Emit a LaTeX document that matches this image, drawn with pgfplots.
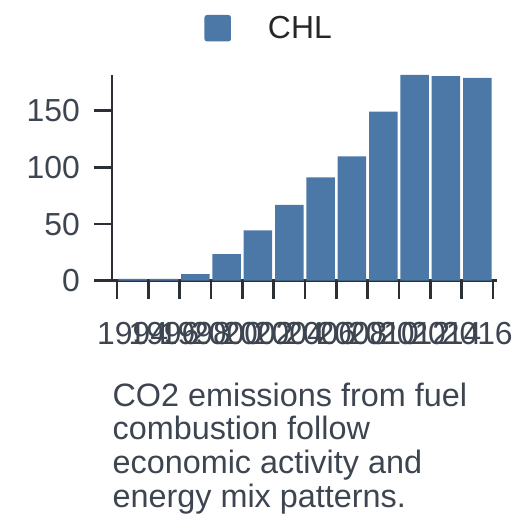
\documentclass[border=0pt]{standalone}
\usepackage{pgfplots}
\pgfplotsset{compat=1.18}
\usepackage{fontspec}
\setmainfont{Liberation Sans}
\definecolor{barblue}{HTML}{4C78A8}
\definecolor{axcol}{HTML}{2B2F36}
\definecolor{txtcol}{HTML}{3D4551}
\definecolor{legcol}{HTML}{262626}
\begin{document}
\begin{tikzpicture}
\path (0,0) rectangle (528bp,528bp);
\begin{axis}[
  at={(112bp,247.3bp)}, anchor=south west,
  scale only axis, width=385bp, height=205.7bp,
  xmin=-0.66, xmax=11.63, ymin=0, ymax=181.5,
  axis x line*=bottom, axis y line*=left,
  axis line style={axcol, line width=2.7bp, -},
  tick align=outside,
  every tick/.style={axcol, line width=2.7bp},
  major tick length=18bp,
  xtick={-0.5,0.5,1.5,2.5,3.5,4.5,5.5,6.5,7.5,8.5,9.5,10.5,11.5},
  xticklabels={},
  extra x ticks={0,1,2,3,4,5,6,7,8,9,10,11},
  extra x tick labels={1994,1996,1998,2000,2002,2004,2006,2008,2010,2012,2014,2016},
  extra x tick style={major tick length=0pt},
  ytick={0,50,100,150},
  /pgf/number format/assume math mode=true,
  ticklabel style={font=\fontsize{32}{38}\selectfont, text=txtcol, inner sep=0pt},
  yticklabel style={anchor=east, xshift=-14bp},
  xticklabel style={anchor=north, yshift=-41.3bp},
  legend style={at={(0.2397,1.2275)}, anchor=west, draw=none, fill=none,
    inner sep=0pt, font=\fontsize{32}{38}\selectfont, text=legcol,
    nodes={inner sep=0pt},
    /tikz/every odd column/.append style={column sep=37bp}},
]
\addplot[ybar, fill=barblue, draw=none, bar width=0.91,
  legend image code/.code={\fill[barblue, rounded corners=2.5bp] (0bp,-13.25bp) rectangle (26.5bp,13.25bp);}]
  coordinates {(0,1.5) (1,1.5) (2,5.9) (3,23.5) (4,44.4) (5,66.8) (6,91.2) (7,109.8) (8,149.1) (9,181.5) (10,180.6) (11,178.9)};
\addlegendentry{CHL}
\end{axis}
\node[anchor=north west, inner sep=0pt, font=\fontsize{32.5}{33.8}\selectfont, text=txtcol, align=left] at (112.4bp,145.5bp)
  {CO2 emissions from fuel\\combustion follow\\economic activity and\\energy mix patterns.};
\end{tikzpicture}
\end{document}
